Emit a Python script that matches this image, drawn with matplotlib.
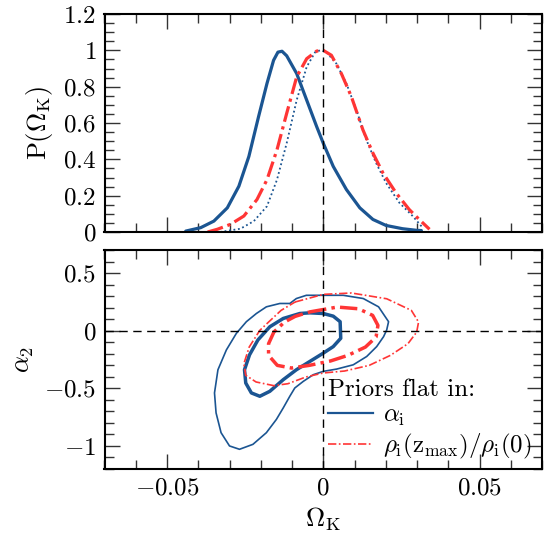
import numpy as np
import matplotlib
matplotlib.use('Agg')
import matplotlib.pyplot as plt
from matplotlib.ticker import MultipleLocator, FixedLocator, FixedFormatter

plt.rcParams['font.family'] = 'serif'
plt.rcParams['font.serif'] = ['cmr10', 'DejaVu Serif']
plt.rcParams['mathtext.fontset'] = 'cm'
plt.rcParams['axes.formatter.use_mathtext'] = True

BLUE = '#1b5592'
RED = '#ff3535'

# top panel: 1D marginals of Omega_K
ok_alpha = [-0.044, -0.0392, -0.035, -0.0307, -0.027, -0.0238, -0.0207, -0.018, -0.0159, -0.0145,
            -0.0132, -0.0117, -0.0085, -0.0053, -0.0021, 0.0, 0.0032, 0.0074, 0.0117, 0.0159,
            0.0201, 0.0254, 0.030, 0.0314]
p_alpha = [0.005, 0.024, 0.06, 0.133, 0.252, 0.416, 0.635, 0.818, 0.945, 0.99,
           0.995, 0.97, 0.872, 0.726, 0.58, 0.489, 0.361, 0.234, 0.133, 0.069,
           0.036, 0.018, 0.009, 0.008]

ok_rho = [-0.037, -0.0339, -0.0297, -0.0254, -0.0212, -0.018, -0.0148, -0.0117, -0.0085, -0.0053,
          -0.0021, 0.0, 0.0026, 0.0058, 0.009, 0.0127, 0.0159, 0.0191, 0.0233, 0.0275,
          0.0307, 0.0340]
p_rho = [0.0, 0.015, 0.042, 0.088, 0.179, 0.288, 0.453, 0.653, 0.854, 0.954,
         0.996, 1.0, 0.973, 0.872, 0.745, 0.562, 0.434, 0.325, 0.215, 0.124,
         0.069, 0.015]

ok_dot = [-0.0330, -0.0265, -0.0222, -0.018, -0.0148, -0.0117, -0.0085, -0.0053, -0.0026, -0.001,
          0.001, 0.0042, 0.0074, 0.0106, 0.0138, 0.0169, 0.0201, 0.0244, 0.0286, 0.0315]
p_dot = [0.0, 0.018, 0.06, 0.142, 0.288, 0.489, 0.726, 0.909, 0.99, 1.0,
         0.99, 0.927, 0.818, 0.672, 0.507, 0.38, 0.27, 0.16, 0.088, 0.03]

# bottom panel: 2D contours (Omega_K, alpha_2)
c95_alpha_x = [0.0, 0.0064, 0.0128, 0.0177, 0.0209, 0.0203, 0.0193, 0.0171, 0.0139, 0.0096,
               0.0043, 0.0, -0.0032, -0.0064, -0.0091, -0.0107, -0.0128, -0.015, -0.0182, -0.0225,
               -0.0268, -0.030, -0.0327, -0.0343, -0.0348, -0.0337, -0.031, -0.0278, -0.0246, -0.0214,
               -0.0182, -0.0139, -0.0107, -0.0086, -0.0054, 0.0]
c95_alpha_y = [0.307, 0.307, 0.279, 0.207, 0.078, 0.006, -0.052, -0.138, -0.224, -0.296,
               -0.333, -0.353, -0.382, -0.44, -0.497, -0.569, -0.67, -0.77, -0.885, -0.986,
               -1.029, -1.0, -0.885, -0.713, -0.54, -0.339, -0.167, -0.023, 0.078, 0.149,
               0.207, 0.236, 0.236, 0.279, 0.307, 0.307]

c68_alpha_x = [0.0, 0.0032, 0.0054, 0.0056, 0.0032, 0.0, -0.0043, -0.0086, -0.0128, -0.0171,
               -0.0203, -0.023, -0.0248, -0.0252, -0.0236, -0.0209, -0.0171, -0.0128, -0.0075, -0.0043,
               0.0]
c68_alpha_y = [0.149, 0.126, 0.078, -0.066, -0.138, -0.195, -0.267, -0.339, -0.425, -0.526,
               -0.569, -0.54, -0.454, -0.339, -0.21, -0.08, 0.034, 0.106, 0.149, 0.155,
               0.149]

c95_rho_x = [-0.009, 0.0, 0.009, 0.0203, 0.0282, 0.0305, 0.0299, 0.0271, 0.0215, 0.0147,
             0.0068, 0.0, -0.0056, -0.0113, -0.0158, -0.0215, -0.0248, -0.0254, -0.0237, -0.0203,
             -0.0169, -0.0135, -0.009]
c95_rho_y = [0.249, 0.315, 0.327, 0.277, 0.176, 0.075, -0.012, -0.113, -0.214, -0.301,
             -0.35, -0.367, -0.402, -0.46, -0.477, -0.445, -0.387, -0.286, -0.142, 0.003,
             0.09, 0.176, 0.249]

c68_rho_x = [-0.0045, 0.0045, 0.0113, 0.0158, 0.0175, 0.0169, 0.0135, 0.0079, 0.0023, -0.0045,
             -0.0102, -0.0147, -0.0175, -0.0175, -0.0158, -0.0124, -0.009, -0.0045]
c68_rho_y = [0.162, 0.205, 0.19, 0.133, 0.046, -0.055, -0.142, -0.214, -0.263, -0.301,
             -0.324, -0.301, -0.214, -0.113, -0.012, 0.075, 0.124, 0.162]

x_ticks = [-0.05, 0.0, 0.05]
x_labels = ['$-0.05$', '$0$', '$0.05$']
top_yticks = [0, 0.2, 0.4, 0.6, 0.8, 1.0, 1.2]
top_ylabels = ['$0$', '$0.2$', '$0.4$', '$0.6$', '$0.8$', '$1$', '$1.2$']
bot_yticks = [-1.0, -0.5, 0.0, 0.5]
bot_ylabels = ['$-1$', '$-0.5$', '$0$', '$0.5$']

W, H = 551, 533
fig = plt.figure(figsize=(W / 100, H / 100), dpi=100)
ax1 = fig.add_axes([104.5 / W, 1 - 232 / H, 437.5 / W, 218 / H])
ax2 = fig.add_axes([104.5 / W, 1 - 469 / H, 437.5 / W, 219 / H])


def style(ax):
    ax.tick_params(which='both', direction='in', top=True, right=True,
                   labelsize=18, color='#333333', width=1)
    ax.tick_params(which='major', length=11, pad=6)
    ax.tick_params(which='minor', length=6.5)
    for s in ax.spines.values():
        s.set_linewidth(1.5)
    ax.xaxis.set_major_locator(FixedLocator(x_ticks))
    ax.xaxis.set_minor_locator(MultipleLocator(0.01))
    ax.set_xlim(-0.07, 0.07)


style(ax1)
ax1.plot(ok_alpha, p_alpha, color=BLUE, lw=2.3, solid_capstyle='round')
ax1.plot(ok_dot, p_dot, color=BLUE, lw=1.3, ls=(0, (1, 1.5)))
ax1.plot(ok_rho, p_rho, color=RED, lw=2.3, ls=(0, (5, 1.5, 1, 1.5)))
ax1.axvline(0, color='k', lw=1, ls=(0, (6, 4)))
ax1.set_ylim(0, 1.2)
ax1.yaxis.set_major_locator(FixedLocator(top_yticks))
ax1.yaxis.set_major_formatter(FixedFormatter(top_ylabels))
ax1.yaxis.set_minor_locator(MultipleLocator(0.05))
ax1.set_xticklabels([])
ax1.set_ylabel(r'$\mathrm{P(\Omega_K)}$', fontsize=19, labelpad=6)

style(ax2)
ax2.plot(c95_alpha_x, c95_alpha_y, color=BLUE, lw=1.2)
ax2.plot(c68_alpha_x, c68_alpha_y, color=BLUE, lw=2.5)
ax2.plot(c95_rho_x, c95_rho_y, color=RED, lw=1.2, ls=(0, (5, 1.5, 1, 1.5)))
ax2.plot(c68_rho_x, c68_rho_y, color=RED, lw=2.5, ls=(0, (5, 1.5, 1, 1.5)))
ax2.axvline(0, color='k', lw=1, ls=(0, (6, 4)))
ax2.axhline(0, color='k', lw=1, ls=(0, (6, 4)))
ax2.set_ylim(-1.2, 0.7)
ax2.yaxis.set_major_locator(FixedLocator(bot_yticks))
ax2.yaxis.set_major_formatter(FixedFormatter(bot_ylabels))
ax2.yaxis.set_minor_locator(MultipleLocator(0.1))
ax2.xaxis.set_major_formatter(FixedFormatter(x_labels))
ax2.set_ylabel(r'$\alpha_2$', fontsize=19, labelpad=6)
ax2.set_xlabel(r'$\mathrm{\Omega_K}$', fontsize=19, labelpad=4)

h1, = ax2.plot([], [], color=BLUE, lw=1.6)
h2, = ax2.plot([], [], color=RED, lw=1.2, ls=(0, (5, 1.5, 1, 1.5)))
leg = ax2.legend([h1, h2], [r'$\alpha_{\rm i}$', r'$\rho_{\rm i}(\rm z_{max})/\rho_{\rm i}(0)$'],
                 title='Priors flat in:', loc='lower right', bbox_to_anchor=(0.975, 0.035),
                 frameon=False, fontsize=18, title_fontsize=18, alignment='left',
                 handlelength=1.8, handletextpad=0.4, labelspacing=0.15, borderpad=0.0,
                 borderaxespad=0.0)

fig.savefig('out.png', dpi=100)
